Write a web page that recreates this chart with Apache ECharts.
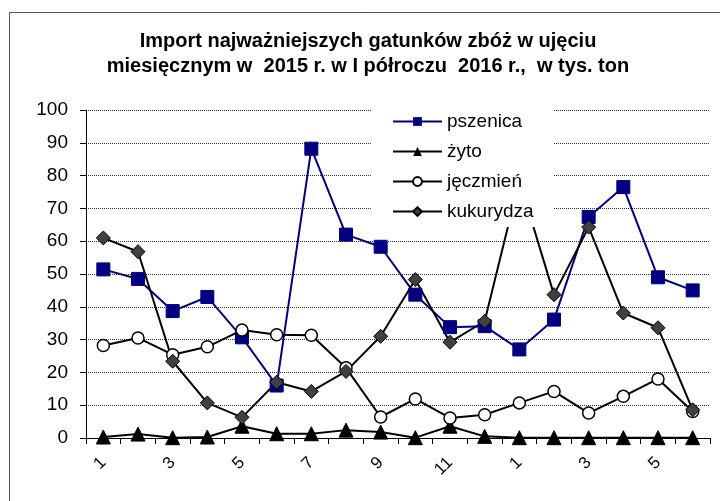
<!DOCTYPE html>
<html>
<head>
<meta charset="utf-8">
<script src="https://cdn.jsdelivr.net/npm/echarts@6/dist/echarts.min.js"></script>
<style>
  html, body { margin: 0; padding: 0; background: #fff; }
  #chart { width: 720px; height: 501px; }
</style>
</head>
<body>
<div id="chart"></div>
<script>
  // miesiące: 2015 (1-12) i I półrocze 2016 (1-6)
  var months = ['1','2','3','4','5','6','7','8','9','10','11','12','1','2','3','4','5','6'];

  // import w tys. ton
  var pszenica = [51.4, 48.5, 38.7, 43.0, 30.7, 16.0, 88.2, 62.0, 58.3, 43.7, 33.8, 34.1, 27.0, 36.1, 67.4, 76.5, 49.0, 45.0];
  var zyto = [0.3, 1.2, 0.1, 0.3, 3.6, 1.3, 1.3, 2.4, 1.8, 0.1, 3.6, 0.5, 0.1, 0.1, 0.1, 0.1, 0.1, 0.1];
  var jeczmien = [28.2, 30.5, 25.4, 27.8, 32.9, 31.5, 31.3, 21.4, 6.4, 11.9, 6.1, 7.1, 10.7, 14.2, 7.6, 12.7, 18.0, 8.1];
  var kukurydza = [61.0, 56.8, 23.4, 10.7, 6.3, 17.0, 14.2, 20.3, 31.0, 48.3, 29.2, 35.6, 78.5, 43.7, 64.3, 38.1, 33.6, 8.6];

  var font = '"Liberation Sans", Arial, sans-serif';

  var myChart = echarts.init(document.getElementById('chart'));

  var option = {
    animation: false,
    textStyle: { fontFamily: font },
    title: {
      text: 'Import najważniejszych gatunków zbóż w ujęciu\nmiesięcznym w  2015 r. w I półroczu  2016 r.,  w tys. ton',
      left: 368,
      textAlign: 'center',
      top: 29,
      padding: 0,
      textStyle: {
        fontFamily: font,
        fontSize: 20,
        fontWeight: 'bold',
        color: '#000',
        lineHeight: 25
      }
    },
    graphic: [{
      type: 'rect',
      left: 7,
      top: 10,
      shape: { width: 800, height: 600 },
      style: { fill: 'none', stroke: '#555', lineWidth: 1 },
      silent: true
    }],
    legend: {
      orient: 'vertical',
      left: 372,
      top: 100,
      padding: [12, 20, 6, 20],
      backgroundColor: '#fff',
      itemWidth: 49,
      itemHeight: 11,
      itemGap: 11,
      textStyle: { fontFamily: font, fontSize: 19, color: '#000' },
      data: ['pszenica', 'żyto', 'jęczmień', 'kukurydza']
    },
    grid: {
      left: 86,
      right: 10,
      top: 110,
      bottom: 63,
      containLabel: false
    },
    xAxis: {
      type: 'category',
      data: months,
      boundaryGap: true,
      axisLine: { lineStyle: { color: '#000', width: 1 } },
      axisTick: { show: true, interval: 0, length: 6, inside: false, lineStyle: { color: '#000' } },
      axisLabel: {
        interval: 1,
        rotate: 45,
        margin: 22,
        fontFamily: font,
        fontSize: 17,
        color: '#000'
      },
      splitLine: { show: false }
    },
    yAxis: {
      type: 'value',
      min: 0,
      max: 100,
      interval: 10,
      axisLine: { show: true, lineStyle: { color: '#000', width: 1 } },
      axisTick: { show: true, length: 6, lineStyle: { color: '#000' } },
      axisLabel: { fontFamily: font, fontSize: 19, color: '#000', margin: 18 },
      splitLine: { lineStyle: { color: '#333', type: [1, 1], width: 1 } }
    },
    series: [{
      name: 'pszenica',
      type: 'line',
      data: pszenica,
      symbol: 'rect',
      symbolSize: 13,
      lineStyle: { color: '#000080', width: 2 },
      itemStyle: { color: '#000080', borderColor: '#000080' }
    }, {
      name: 'żyto',
      type: 'line',
      data: zyto,
      symbol: 'triangle',
      symbolSize: 14,
      lineStyle: { color: '#000', width: 2 },
      itemStyle: { color: '#000', borderColor: '#000' }
    }, {
      name: 'jęczmień',
      type: 'line',
      data: jeczmien,
      symbol: 'circle',
      symbolSize: 12,
      lineStyle: { color: '#000', width: 2 },
      itemStyle: { color: '#fff', borderColor: '#000', borderWidth: 1.5 }
    }, {
      name: 'kukurydza',
      type: 'line',
      data: kukurydza,
      symbol: 'diamond',
      symbolSize: 14,
      lineStyle: { color: '#000', width: 2 },
      itemStyle: { color: '#404040', borderColor: '#000', borderWidth: 1 }
    }]
  };

  myChart.setOption(option);
</script>
</body>
</html>
